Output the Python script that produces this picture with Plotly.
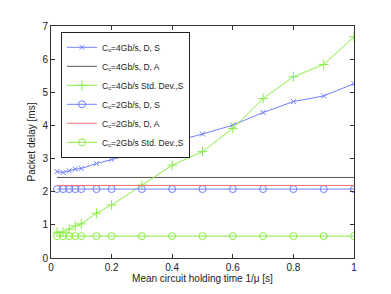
import plotly.graph_objects as go

x = [0.02, 0.04, 0.06, 0.08, 0.1, 0.15, 0.2, 0.3, 0.4, 0.5, 0.6, 0.7, 0.8, 0.9, 1.0]
d4_s = [2.61, 2.58, 2.63, 2.68, 2.70, 2.85, 2.97, 3.22, 3.50, 3.74, 4.01, 4.39, 4.72, 4.89, 5.26]
d4_a = [2.43] * len(x)
sd4_s = [0.78, 0.78, 0.87, 0.97, 1.03, 1.35, 1.60, 2.20, 2.80, 3.21, 3.91, 4.81, 5.47, 5.84, 6.67]
d2_s = [2.08] * len(x)
d2_a = [2.19] * len(x)
sd2_s = [0.66] * len(x)

names = ["C<sub>c</sub>=4Gb/s, D, S", "C<sub>c</sub>=4Gb/s, D, A", "C<sub>c</sub>=4Gb/s Std. Dev.,S",
         "C<sub>c</sub>=2Gb/s, D, S", "C<sub>c</sub>=2Gb/s, D, A", "C<sub>c</sub>=2Gb/s Std. Dev.,S"]

blue = "#7080ff"
green = "#88ee44"
red = "#ff7070"
black = "#555555"

fig = go.Figure()
fig.add_trace(go.Scatter(x=x, y=d4_s, name=names[0], mode="lines+markers",
                         line=dict(color=blue, width=1), marker=dict(symbol="x-thin", size=5, line=dict(color=blue, width=1))))
fig.add_trace(go.Scatter(x=x, y=d4_a, name=names[1], mode="lines", line=dict(color=black, width=1)))
fig.add_trace(go.Scatter(x=x, y=sd4_s, name=names[2], mode="lines+markers",
                         line=dict(color=green, width=1), marker=dict(symbol="cross-thin", size=7, line=dict(color=green, width=1))))
fig.add_trace(go.Scatter(x=x, y=d2_s, name=names[3], mode="lines+markers",
                         line=dict(color=blue, width=1), marker=dict(symbol="circle-open", size=7, color=blue, line=dict(width=1))))
fig.add_trace(go.Scatter(x=x, y=d2_a, name=names[4], mode="lines", line=dict(color=red, width=1)))
fig.add_trace(go.Scatter(x=x, y=sd2_s, name=names[5], mode="lines+markers",
                         line=dict(color=green, width=1), marker=dict(symbol="circle-open", size=7, color=green, line=dict(width=1))))

axis_common = dict(showline=True, linecolor="#333333", linewidth=1, mirror="ticks",
                   ticks="inside", ticklen=4, tickcolor="#333333", showgrid=False, zeroline=False,
                   tickfont=dict(size=10, color="#222222"))
fig.update_layout(
    width=383, height=286,
    margin=dict(l=43, r=37, t=15, b=33),
    paper_bgcolor="white", plot_bgcolor="white",
    font=dict(family="Liberation Sans, Arial, sans-serif", size=10, color="#222222"),
    xaxis=dict(range=[0, 1], tickvals=[0, 0.2, 0.4, 0.6, 0.8, 1], ticktext=["0", "0.2", "0.4", "0.6", "0.8", "1"],
               title=dict(text="Mean circuit holding time 1/μ [s]", font=dict(size=10), standoff=2), **axis_common),
    yaxis=dict(range=[0, 7], tickvals=[0, 1, 2, 3, 4, 5, 6, 7],
               title=dict(text="Packet delay [ms]", font=dict(size=10), standoff=4), **axis_common),
    legend=dict(x=0.033, y=0.975, xanchor="left", yanchor="top", bgcolor="white",
                bordercolor="#222222", borderwidth=1, font=dict(size=8.5), tracegroupgap=0,
                itemwidth=30),
    showlegend=True,
)
fig.write_html("out.html")
